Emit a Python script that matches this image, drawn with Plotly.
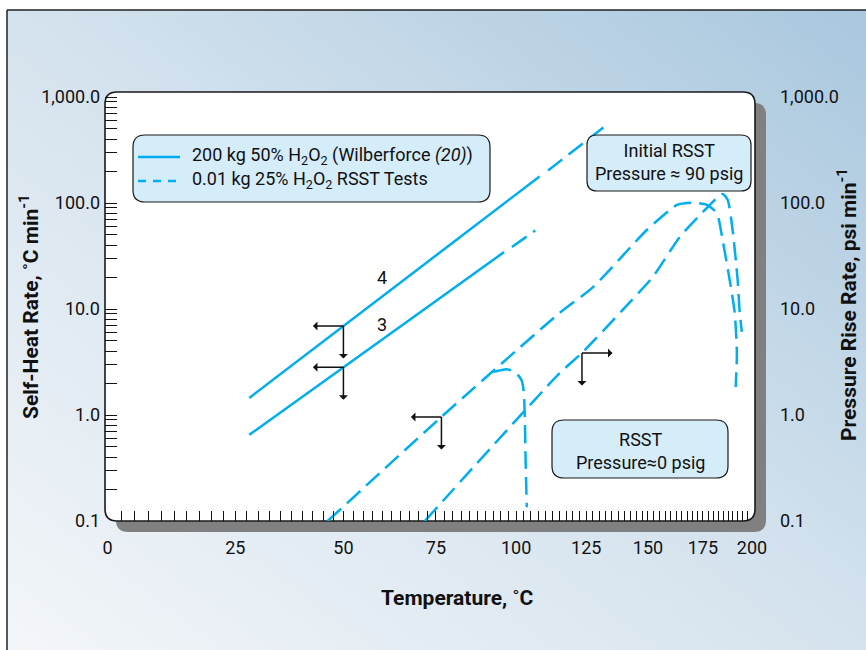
import base64
import numpy as np
import plotly.graph_objects as go

# ---------------- data (temperature in deg C, rates in deg C/min) ----------------
x_labels = [0, 25, 50, 75, 100, 125, 150, 175, 200]
x_minor_T = [2.5 * k for k in range(1, 80)]
y_ticks = [0.1, 1, 10, 100, 1000]
y_ticktext = ["0.1", "1.0", "10.0", "100.0", "1,000.0"]

# 200 kg 50% H2O2 (Wilberforce) - curve "4"
wilb4_T = [28, 108]
wilb4_rate = [1.45, 178]
wilb4_ext_T = [111, 132]
wilb4_ext_rate = [203, 524]
# curve "3"
wilb3_T = [28, 96]
wilb3_rate = [0.65, 34.4]
wilb3_ext_T = [98.6, 106.5]
wilb3_ext_rate = [38.4, 55.0]

# 0.01 kg 25% H2O2 RSST tests
rsst1_T = [46.1, 76.6, 115.2, 127.5, 149.5, 162.8, 167.4, 172, 176.9, 181.8, 184.7, 188.3, 190.9, 192.0, 191.4]
rsst1_rate = [0.1, 0.96, 9.2, 16, 55.6, 95.8, 100, 100, 96, 80.5, 44.8, 18.8, 9.2, 3.85, 1.84]
rsst2_T = [71.8, 115.2, 123.4, 139.4, 152, 164.1, 176.9, 184.7, 187.3, 189.8, 192.4, 193.5, 194.6]
rsst2_rate = [0.1, 2.49, 3.85, 9.8, 20, 47.8, 89.7, 121.7, 106.6, 55.6, 18.8, 9.2, 6.07]
hook_T = [92.6, 96.8, 99.6, 101.8, 102.5, 102.9, 103.2, 103.6]
hook_rate = [2.55, 2.7, 2.55, 2.14, 1.72, 1.04, 0.376, 0.135]

# arrow markers (temperature where the bracket sits, horizontal direction)
arrow_T = [50, 50, 76.6, 123.4]
arrow_dir = [-1, -1, -1, 1]

CYAN = "#00aeef"
FONT = "Roboto, Liberation Sans, Arial, sans-serif"


def u(T):
    """Arrhenius temperature scale: -1000/K."""
    return -1000.0 / (np.asarray(T, dtype=float) + 273.15)


def on_curve(T, cT, cR):
    return float(10 ** np.interp(u(T), u(cT), np.log10(cR)))


arrow_rate = [
    on_curve(arrow_T[0], wilb4_T, wilb4_rate),
    on_curve(arrow_T[1], wilb3_T, wilb3_rate),
    on_curve(arrow_T[2], rsst1_T[:3], rsst1_rate[:3]),
    on_curve(arrow_T[3], rsst2_T[:4], rsst2_rate[:4]),
]

# ---------------- layout geometry ----------------
W, H = 866, 650
L, R, T0, B = 105, 755, 92, 521
PW, PH = R - L, B - T0


def px(x):
    return (x - L) / PW


def py(y):
    return (B - y) / PH


def rrect(x0, y0, x1, y1, r):
    X0, X1, Yt, Yb = px(x0), px(x1), py(y0), py(y1)
    rx, ry = r / PW, r / PH
    return (f"M {X0+rx},{Yt} L {X1-rx},{Yt} Q {X1},{Yt} {X1},{Yt-ry} "
            f"L {X1},{Yb+ry} Q {X1},{Yb} {X1-rx},{Yb} L {X0+rx},{Yb} "
            f"Q {X0},{Yb} {X0},{Yb+ry} L {X0},{Yt-ry} Q {X0},{Yt} {X0+rx},{Yt} Z")


fig = go.Figure()

DASH = "18px,8px"
fig.add_trace(go.Scatter(x=u(wilb4_T), y=wilb4_rate, mode="lines",
                         line=dict(color=CYAN, width=2.5), name="200 kg 50% H2O2 (Wilberforce (20))"))
fig.add_trace(go.Scatter(x=u(wilb4_ext_T), y=wilb4_ext_rate, mode="lines",
                         line=dict(color=CYAN, width=2.5, dash=DASH), showlegend=False))
fig.add_trace(go.Scatter(x=u(wilb3_T), y=wilb3_rate, mode="lines",
                         line=dict(color=CYAN, width=2.5), showlegend=False))
fig.add_trace(go.Scatter(x=u(wilb3_ext_T), y=wilb3_ext_rate, mode="lines",
                         line=dict(color=CYAN, width=2.5, dash=DASH), showlegend=False))
for cT, cR in [(rsst1_T, rsst1_rate), (rsst2_T, rsst2_rate), (hook_T, hook_rate)]:
    fig.add_trace(go.Scatter(x=u(cT), y=cR, mode="lines",
                             line=dict(color=CYAN, width=2.5, dash=DASH, shape="spline", smoothing=0.6),
                             showlegend=False))
# invisible trace for the right axis
fig.add_trace(go.Scatter(x=[None], y=[None], yaxis="y2", showlegend=False, hoverinfo="skip"))

# ---------------- background ----------------
svg = ("<svg xmlns='http://www.w3.org/2000/svg' width='860' height='640' viewBox='0 0 860 640' "
       "preserveAspectRatio='none'><defs><linearGradient id='g' x1='0' y1='1' x2='1' y2='0'>"
       "<stop offset='0' stop-color='#f3f6f9'/><stop offset='0.5' stop-color='#d5e3ee'/>"
       "<stop offset='1' stop-color='#a9c7de'/>"
       "</linearGradient></defs><rect width='860' height='640' fill='url(#g)'/></svg>")
src = "data:image/svg+xml;base64," + base64.b64encode(svg.encode()).decode()
fig.add_layout_image(dict(source=src, xref="paper", yref="paper", x=px(7), y=py(10),
                          sizex=(W - 7) / PW, sizey=(H - 10) / PH, sizing="stretch",
                          xanchor="left", yanchor="top", layer="below"))

shapes = []
shapes.append(dict(type="line", xref="paper", yref="paper", x0=px(7), x1=px(W), y0=py(10), y1=py(10),
                   line=dict(color="#222", width=1.5), layer="below"))
shapes.append(dict(type="line", xref="paper", yref="paper", x0=px(7), x1=px(7), y0=py(10), y1=py(H),
                   line=dict(color="#222", width=1.5), layer="below"))
# shadow + white plot panel
shapes.append(dict(type="path", xref="paper", yref="paper", path=rrect(L + 11, T0 + 11, R + 11, B + 11, 12),
                   fillcolor="#808080", line=dict(width=0), layer="below"))
shapes.append(dict(type="path", xref="paper", yref="paper", path=rrect(L, T0, R, B, 12),
                   fillcolor="white", line=dict(color="#1a1a1a", width=1.6), layer="below"))
# text boxes
BOXFILL = "#d5ecf9"
for (a, b, c, d, r) in [(133, 135, 490, 202, 12), (587, 135, 751, 191, 10), (552, 420, 728, 478, 12)]:
    shapes.append(dict(type="path", xref="paper", yref="paper", path=rrect(a, b, c, d, r),
                       fillcolor=BOXFILL, line=dict(color="#1a1a1a", width=1.2), layer="above"))
# legend samples
shapes.append(dict(type="line", xref="paper", yref="paper", x0=px(138), x1=px(180), y0=py(157), y1=py(157),
                   line=dict(color=CYAN, width=2.5), layer="above"))
shapes.append(dict(type="line", xref="paper", yref="paper", x0=px(138), x1=px(180), y0=py(181), y1=py(181),
                   line=dict(color=CYAN, width=2.5, dash="8px,7px"), layer="above"))

anns = []
tf = dict(family=FONT, size=18, color="#111")
anns.append(dict(xref="paper", yref="paper", x=px(190), y=py(156), xanchor="left", yanchor="middle",
                 text="200 kg 50% H<sub>2</sub>O<sub>2</sub> (Wilberforce <i>(20)</i>)", showarrow=False, font=tf))
anns.append(dict(xref="paper", yref="paper", x=px(190), y=py(180), xanchor="left", yanchor="middle",
                 text="0.01 kg 25% H<sub>2</sub>O<sub>2</sub> RSST Tests", showarrow=False, font=tf))
anns.append(dict(xref="paper", yref="paper", x=px(669), y=py(162), xanchor="center", yanchor="middle",
                 text="Initial RSST<br>Pressure ≈ 90 psig", showarrow=False, font=tf))
anns.append(dict(xref="paper", yref="paper", x=px(640), y=py(451), xanchor="center", yanchor="middle",
                 text="RSST<br>Pressure≈0 psig", showarrow=False, font=tf))
# curve labels
anns.append(dict(x=float(u(60)), y=float(np.log10(20)), text="4", showarrow=False, font=tf,
                 xanchor="center", yanchor="middle"))
anns.append(dict(x=float(u(60)), y=float(np.log10(7.1)), text="3", showarrow=False, font=tf,
                 xanchor="center", yanchor="middle"))
# bracket arrows
for Tc, Rc, dx in zip(arrow_T, arrow_rate, arrow_dir):
    common = dict(x=float(u(Tc)), y=float(np.log10(Rc)), text="", showarrow=True, arrowside="start",
                  arrowhead=2, arrowsize=1.3, arrowwidth=1.5, arrowcolor="#111", standoff=0, startstandoff=0)
    anns.append(dict(common, ax=32 * dx, ay=0))
    anns.append(dict(common, ax=0, ay=34))
# axis titles
bf = dict(family=FONT, size=21, color="#111")
anns.append(dict(xref="paper", yref="paper", x=px(29), y=py(307), textangle=-90, xanchor="center",
                 yanchor="middle", text="<b>Self-Heat Rate, ˚C min<sup>-1</sup></b>", showarrow=False, font=bf))
anns.append(dict(xref="paper", yref="paper", x=px(847), y=py(305), textangle=-90, xanchor="center",
                 yanchor="middle", text="<b>Pressure Rise Rate, psi min<sup>-1</sup></b>", showarrow=False,
                 font=bf))
anns.append(dict(xref="paper", yref="paper", x=px(457), y=py(598), xanchor="center", yanchor="middle",
                 text="<b>Temperature, ˚C</b>", showarrow=False, font=bf))

yrange = [-1, -1 + PH / 106.0]
minor_y = [k * 10 ** e for e in range(-1, 3) for k in range(2, 10)]

fig.update_layout(
    width=W, height=H,
    margin=dict(l=L, r=W - R, t=T0, b=H - B, pad=0),
    paper_bgcolor="white", plot_bgcolor="rgba(0,0,0,0)",
    showlegend=False,
    shapes=shapes, annotations=anns,
    xaxis=dict(range=[float(u(0)) - 2.5 / 416.48, float(u(200)) + 3 / 416.48],
               tickmode="array", tickvals=[float(v) for v in u(x_labels)],
               ticktext=[str(v) for v in x_labels], ticks="", showline=False, showgrid=False,
               zeroline=False, tickfont=dict(family=FONT, size=18, color="#111"), ticklabelstandoff=14,
               minor=dict(tickmode="array", tickvals=[float(v) for v in u(x_minor_T)], ticks="inside",
                          ticklen=10, tickwidth=1.3, tickcolor="#111", showgrid=False)),
    yaxis=dict(type="log", range=yrange, tickmode="array", tickvals=y_ticks, ticktext=y_ticktext,
               ticks="inside", ticklen=12, tickwidth=1.3, tickcolor="#111", showline=False, showgrid=False,
               zeroline=False, tickfont=dict(family=FONT, size=18, color="#111"), ticklabelstandoff=4,
               minor=dict(tickmode="array", tickvals=minor_y, ticks="inside", ticklen=12, tickwidth=1.3,
                          tickcolor="#111", showgrid=False)),
    yaxis2=dict(type="log", range=yrange, overlaying="y", side="right", tickmode="array",
                tickvals=y_ticks, ticktext=y_ticktext, ticks="", showline=False, showgrid=False,
                zeroline=False, tickfont=dict(family=FONT, size=18, color="#111"), ticklabelstandoff=24),
)

fig.write_html("out.html", config={"displayModeBar": False},
               post_script="document.body.style.margin='0px';")
